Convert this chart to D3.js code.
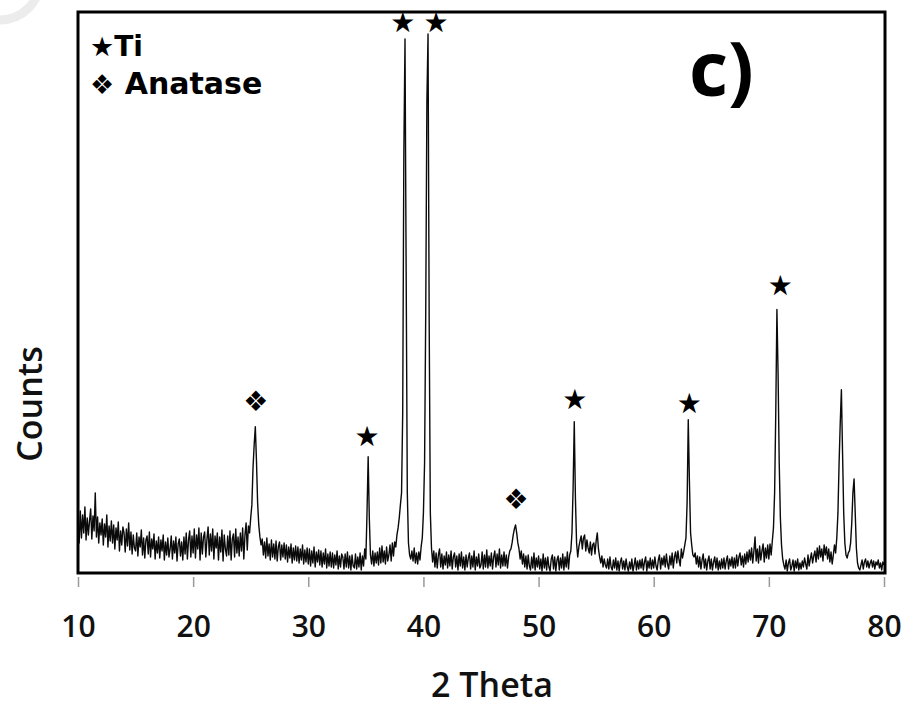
<!DOCTYPE html>
<html>
<head>
<meta charset="utf-8">
<script src="https://cdn.jsdelivr.net/npm/d3@7"></script>
<style>
  html, body { margin: 0; padding: 0; background: #fff; }
  svg { display: block; }
</style>
</head>
<body>
<div id="chart"></div>
<script>
// XRD pattern, 2 theta from 10 to 80 in 0.1 steps, counts in arbitrary units
const thetaStart = 10;
const thetaStep = 0.1;
const counts = [
  45,30,62,35,58,40,66,33,55,38,   // 10
  52,64,34,57,42,80,36,56,30,50,   // 11
  38,54,28,49,36,58,26,47,32,52,   // 12
  30,48,24,45,33,51,22,42,28,46,   // 13
  40,21,44,27,50,23,41,19,38,25,   // 14
  22,40,17,36,26,43,18,35,15,33,   // 15
  37,19,41,16,34,24,39,14,32,20,   // 16
  36,15,33,22,38,13,31,18,35,16,   // 17
  24,37,14,32,20,36,12,29,34,17,   // 18
  31,13,36,19,40,14,33,42,16,37,   // 19
  20,44,15,38,24,45,13,40,19,36,   // 20
  41,16,34,46,18,39,22,44,14,37,   // 21
  25,40,13,36,21,43,12,38,24,17,   // 22
  37,18,42,13,34,39,16,44,20,36,   // 23
  17,40,22,45,14,38,50,23,47,40,   // 24
  55,68,105,128,146,112,70,48,36,28, // 25
  34,18,31,15,35,17,29,13,33,16,   // 26
  29,14,32,12,26,31,13,28,16,30,   // 27
  14,28,11,26,15,29,10,25,13,27,   // 28
  12,26,10,24,13,28,9,23,11,25,    // 29
  9,24,7,22,10,26,6,21,11,23,      // 30
  8,22,6,20,9,24,5,19,7,21,        // 31
  6,20,5,18,8,22,4,17,6,19,        // 32
  16,4,19,6,21,5,17,3,18,7,        // 33
  5,19,4,16,6,20,3,17,7,24,        // 34
  14,60,116,55,18,9,22,7,20,10,    // 35
  21,8,25,10,27,11,22,9,26,12,     // 36
  18,28,12,30,17,31,26,38,45,55,   // 37
  68,80,160,420,533,300,80,30,18,14, // 38
  22,12,25,10,20,9,21,13,26,35,    // 39
  60,110,260,470,538,250,60,25,11,22, // 40
  6,20,5,18,24,6,19,4,17,8,        // 41
  21,5,18,7,22,4,16,20,6,17,       // 42
  3,19,7,21,5,16,3,18,6,15,        // 43
  20,4,17,6,22,3,16,7,19,5,        // 44
  8,21,4,18,6,23,5,17,7,20,        // 45
  4,16,22,6,19,8,24,5,18,7,        // 46
  21,7,18,5,16,22,24,30,38,44,     // 47
  48,40,30,24,14,22,9,19,6,17,     // 48
  4,18,7,3,16,5,20,3,15,6,         // 49
  17,4,14,2,19,5,15,3,16,6,        // 50
  2,14,18,4,16,2,13,17,3,15,       // 51
  5,19,3,16,6,21,4,18,22,40,       // 52
  85,151,75,30,16,26,32,37,24,35,  // 53
  38,22,33,25,20,31,18,28,30,19,   // 54
  32,40,24,16,10,17,6,14,8,5,      // 55
  14,4,16,6,3,13,5,15,3,12,        // 56
  2,11,15,4,12,3,14,6,2,11,        // 57
  4,14,2,8,15,3,12,4,13,5,         // 58
  14,3,11,16,2,12,5,15,4,13,       // 59
  5,16,7,3,13,18,4,15,8,17,        // 60
  6,19,9,4,17,8,20,5,16,21,        // 61
  10,22,13,7,24,15,21,28,35,70,    // 62
  153,92,40,28,18,16,20,9,17,6,    // 63
  16,4,13,19,5,14,3,12,17,4,       // 64
  14,3,11,16,5,15,3,12,4,14,       // 65
  5,15,4,12,17,4,14,7,16,5,        // 66
  15,5,18,7,16,20,8,17,6,19,       // 67
  9,21,11,23,13,25,10,22,36,12,    // 68
  24,10,27,13,22,29,11,25,15,28,   // 69
  14,29,18,32,45,80,160,263,200,110, // 70
  55,28,14,8,4,13,2,10,14,3,       // 71
  7,13,2,12,5,14,3,10,4,12,        // 72
  6,15,9,4,18,7,14,20,10,17,       // 73
  22,11,25,14,27,16,24,12,28,18,   // 74
  26,14,24,11,21,9,18,28,20,35,    // 75
  60,110,150,183,120,60,30,18,15,20, // 76
  22,30,50,80,94,60,25,10,5,3,     // 77
  8,13,4,11,14,6,12,5,10,13,       // 78
  6,12,4,11,8,13,5,10,3,11,        // 79
  8                                // 80
];

const xTicks = [10, 20, 30, 40, 50, 60, 70, 80];

// peak markers: [2 theta, counts]
const tiMarks = [[35.1, 136], [38.2, 550], [41.1, 550], [53.15, 173], [63.1, 169], [71.0, 287]];
const anataseMarks = [[25.45, 171], [48.05, 73]];

const width = 919;
const height = 706;
const margin = { top: 12, right: 35, bottom: 133, left: 78 };

const data = counts.map((c, i) => ({ x: thetaStart + i * thetaStep, y: c }));

const svg = d3.select('#chart')
  .append('svg')
    .attr('width', width)
    .attr('height', height);

// faint circle left over in the corner of the source image
svg.append('circle')
  .attr('cx', 0)
  .attr('cy', -20)
  .attr('r', 40)
  .attr('fill', 'none')
  .attr('stroke', '#ececec')
  .attr('stroke-width', 9);

const x = d3.scaleLinear()
  .domain([10, 80])
  .range([margin.left, width - margin.right]);

const y = d3.scaleLinear()
  .domain([0, 560])
  .range([height - margin.bottom, margin.top]);

// x axis: grey ticks below the frame, no domain line
const xAxis = svg.append('g')
  .attr('transform', 'translate(0,' + (height - margin.bottom) + ')')
  .call(d3.axisBottom(x).tickValues(xTicks).tickSize(0).tickFormat(d3.format('d')));
xAxis.select('.domain').remove();
xAxis.selectAll('.tick line')
  .attr('y1', 4)
  .attr('y2', 14)
  .attr('stroke', '#9a9a9a')
  .attr('stroke-width', 1.5);
xAxis.selectAll('.tick text')
  .attr('y', 64)
  .attr('dy', 0)
  .attr('fill', '#111')
  .style('font-family', '"Open Sans", sans-serif')
  .style('font-weight', 600)
  .style('font-size', '30px');

// the pattern
svg.append('path')
  .datum(data)
  .attr('fill', 'none')
  .attr('stroke', '#0a0a0a')
  .attr('stroke-width', 1.4)
  .attr('stroke-linejoin', 'round')
  .attr('d', d3.line()
    .x((d) => x(d.x))
    .y((d) => y(d.y))
  );

// frame
svg.append('rect')
  .attr('x', x(10))
  .attr('y', y(560))
  .attr('width', x(80) - x(10) + 1)
  .attr('height', y(0) - y(560))
  .attr('fill', 'none')
  .attr('stroke', '#000')
  .attr('stroke-width', 3);

// peak symbols
const markFont = '"DejaVu Sans", sans-serif';
svg.append('g')
  .selectAll('text')
  .data(tiMarks)
  .join('text')
    .attr('x', (d) => x(d[0]))
    .attr('y', (d) => y(d[1]))
    .attr('text-anchor', 'middle')
    .attr('dominant-baseline', 'central')
    .style('font-family', markFont)
    .style('font-size', '28px')
    .text('\u2605');

svg.append('g')
  .selectAll('text')
  .data(anataseMarks)
  .join('text')
    .attr('x', (d) => x(d[0]))
    .attr('y', (d) => y(d[1]))
    .attr('text-anchor', 'middle')
    .attr('dominant-baseline', 'central')
    .style('font-family', markFont)
    .style('font-size', '28px')
    .text('\u2756');

// legend
const legend = svg.append('g')
  .style('font-family', markFont)
  .style('font-weight', 'bold');
const l1 = legend.append('text').attr('x', 90).attr('y', 56);
l1.append('tspan').style('font-size', '27px').text('\u2605');
l1.append('tspan').style('font-size', '28px').text('Ti');
const l2 = legend.append('text').attr('x', 90).attr('y', 94);
l2.append('tspan').style('font-size', '27px').text('\u2756');
l2.append('tspan').style('font-size', '30px').text(' Anatase');

// panel label
svg.append('text')
  .attr('x', 689)
  .attr('y', 96)
  .style('font-family', '"Open Sans", sans-serif')
  .style('font-weight', 700)
  .style('font-size', '76px')
  .text('c)');

// axis titles
svg.append('text')
  .attr('x', 492)
  .attr('y', 697)
  .attr('text-anchor', 'middle')
  .attr('fill', '#111')
  .style('font-family', '"Open Sans", sans-serif')
  .style('font-weight', 600)
  .style('font-size', '34px')
  .text('2 Theta');

svg.append('text')
  .attr('transform', 'translate(42,404) rotate(-90)')
  .attr('text-anchor', 'middle')
  .attr('fill', '#111')
  .style('font-family', '"Open Sans", sans-serif')
  .style('font-weight', 600)
  .style('font-size', '34px')
  .text('Counts');
</script>
</body>
</html>
